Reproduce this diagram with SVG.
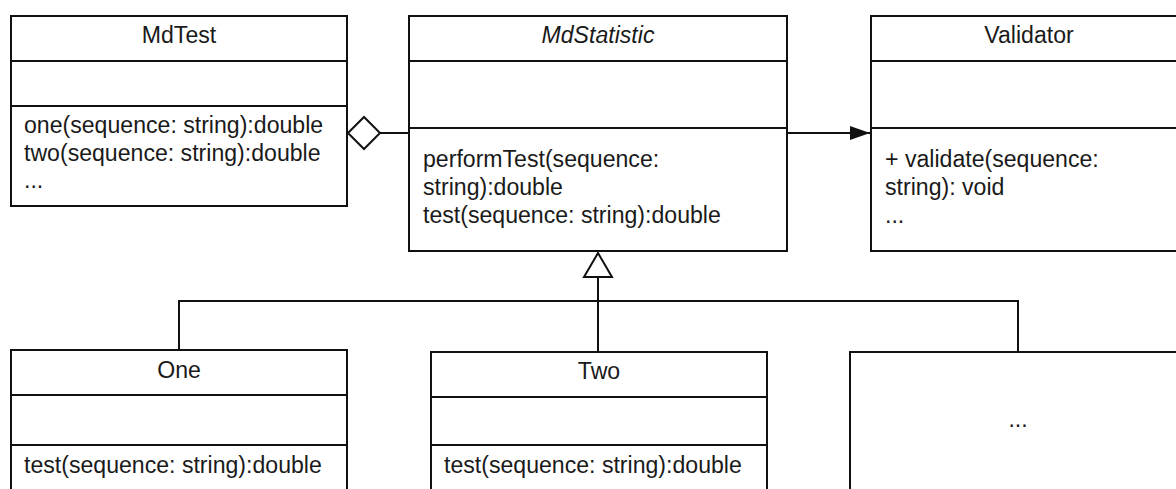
<svg xmlns="http://www.w3.org/2000/svg" width="1176" height="489" viewBox="0 0 1176 489">
<style>
.box{fill:#fff;stroke:#111;stroke-width:2}
.ln{stroke:#111;stroke-width:2;fill:none}
.t{font-family:"Liberation Sans",Arial,sans-serif;font-size:23.1px;fill:#1a1a1a}
.c{text-anchor:middle}
.i{font-style:italic}
</style>
<defs>
<marker id="arrow" viewBox="0 0 20 14" refX="20" refY="7" markerWidth="20" markerHeight="14" markerUnits="userSpaceOnUse" orient="auto">
<path d="M0,0 L20,7 L0,14 Z" fill="#111"/>
</marker>
</defs>
<g id="connectors">
<line class="ln" x1="380" y1="133" x2="409" y2="133"/>
<polygon class="ln" points="348,133 364,117 380,133 364,149" fill="#fff"/>
<line class="ln" x1="787" y1="133" x2="870" y2="133" marker-end="url(#arrow)"/>
<polygon class="ln" points="598,253 612,277 584,277" fill="#fff"/>
<line class="ln" x1="598" y1="277" x2="598" y2="352"/>
<polyline class="ln" points="179,350 179,301 1018,301 1018,352"/>
</g>
<g id="MdTest">
<rect class="box" x="11" y="16" width="336" height="190"/>
<line class="ln" x1="11" y1="61" x2="347" y2="61"/>
<line class="ln" x1="11" y1="106" x2="347" y2="106"/>
<text class="t c" x="179" y="43">MdTest</text>
<text class="t" x="24" y="133">one(sequence: string):double</text>
<text class="t" x="24" y="161">two(sequence: string):double</text>
<text class="t" x="24" y="188">...</text>
</g>
<g id="MdStatistic">
<rect class="box" x="409" y="16" width="378" height="235"/>
<line class="ln" x1="409" y1="61" x2="787" y2="61"/>
<line class="ln" x1="409" y1="128" x2="787" y2="128"/>
<text class="t c i" x="598" y="43">MdStatistic</text>
<text class="t" x="423" y="167">performTest(sequence:</text>
<text class="t" x="423" y="195">string):double</text>
<text class="t" x="423" y="223">test(sequence: string):double</text>
</g>
<g id="Validator">
<rect class="box" x="871" y="16" width="316" height="235"/>
<line class="ln" x1="871" y1="61" x2="1187" y2="61"/>
<line class="ln" x1="871" y1="128" x2="1187" y2="128"/>
<text class="t c" x="1029" y="43">Validator</text>
<text class="t" x="885" y="167">+ validate(sequence:</text>
<text class="t" x="885" y="195">string): void</text>
<text class="t" x="885" y="223">...</text>
</g>
<g id="One">
<rect class="box" x="11" y="350" width="336" height="160"/>
<line class="ln" x1="11" y1="395" x2="347" y2="395"/>
<line class="ln" x1="11" y1="445" x2="347" y2="445"/>
<text class="t c" x="179" y="378">One</text>
<text class="t" x="24" y="473">test(sequence: string):double</text>
</g>
<g id="Two">
<rect class="box" x="431" y="352" width="336" height="160"/>
<line class="ln" x1="431" y1="397" x2="767" y2="397"/>
<line class="ln" x1="431" y1="445" x2="767" y2="445"/>
<text class="t c" x="599" y="379">Two</text>
<text class="t" x="444" y="473">test(sequence: string):double</text>
</g>
<g id="More">
<rect class="box" x="850" y="352" width="336" height="160"/>
<text class="t c" x="1018" y="427">...</text>
</g>
</svg>
